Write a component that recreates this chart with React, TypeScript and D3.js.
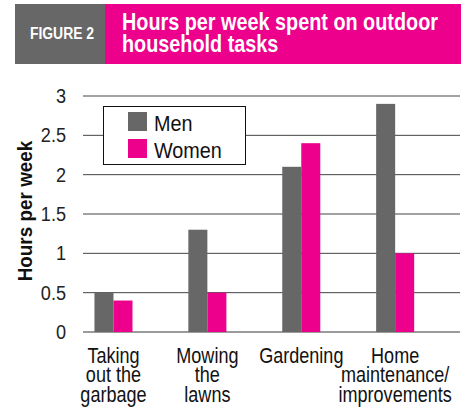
import React from "react";
import * as d3 from "d3";

const categories: string[][] = [
  ["Taking", "out the", "garbage"],
  ["Mowing", "the", "lawns"],
  ["Gardening"],
  ["Home", "maintenance/", "improvements"],
];
const categoryKeys = ["garbage", "lawns", "gardening", "home"];
const seriesNames = ["Men", "Women"];
const menValues = [0.5, 1.3, 2.1, 2.9];
const womenValues = [0.4, 0.5, 2.4, 1.0];
const yTicks = [0, 0.5, 1, 1.5, 2, 2.5, 3];
const yTickLabels = ["0", "0.5", "1", "1.5", "2", "2.5", "3"];
const titleLines = ["Hours per week spent on outdoor", "household tasks"];
const figureLabel = "FIGURE 2";
const yTitle = "Hours per week";

const W = 464;
const H = 414;
const GRAY = "#676767";
const PINK = "#EC008C";
const FONT = "'Liberation Sans', Arial, Helvetica, sans-serif";

type TProps = {
  x: number;
  y: number;
  sx?: number;
  rotate?: number;
  size: number;
  bold?: boolean;
  anchor?: "start" | "middle" | "end";
  fill?: string;
  children: React.ReactNode;
};

function T({ x, y, sx = 1, rotate = 0, size, bold, anchor = "start", fill = "#111", children }: TProps) {
  return (
    <text
      transform={`translate(${x},${y}) rotate(${rotate}) scale(${sx},1)`}
      fontSize={size}
      fontWeight={bold ? "bold" : "normal"}
      textAnchor={anchor}
      fill={fill}
    >
      {children}
    </text>
  );
}

export default function App() {
  const left = 83;
  const right = 460;
  const top = 96;
  const bottom = 332;

  const y = d3.scaleLinear().domain([0, 3]).range([bottom, top]);
  const x = d3
    .scaleBand<string>()
    .domain(categoryKeys)
    .range([left, right])
    .paddingInner(0.595)
    .paddingOuter(0.305)
    .align(0.2);
  const xs = d3.scaleBand<string>().domain(seriesNames).range([0, x.bandwidth()]);
  const colors = d3.scaleOrdinal<string, string>().domain(seriesNames).range([GRAY, PINK]);
  const values = [menValues, womenValues];

  return (
    <svg
      width={W}
      height={H}
      style={{ position: "absolute", left: 0, top: 0, background: "#fff" }}
      fontFamily={FONT}
    >
      {/* header */}
      <rect x={15} y={4} width={90} height={60} fill={GRAY} />
      <rect x={105} y={4} width={356} height={60} fill={PINK} />
      <T x={62} y={38.5} sx={0.87} size={16} bold anchor="middle" fill="#fff">
        {figureLabel}
      </T>
      {titleLines.map((t, i) => (
        <T key={i} x={122} y={29.5 + i * 22.5} sx={0.826} size={24} bold fill="#fff">
          {t}
        </T>
      ))}

      {/* gridlines and y ticks */}
      {yTicks.map((t, i) => (
        <g key={i}>
          <line
            x1={left}
            x2={right}
            y1={y(t)}
            y2={y(t)}
            stroke={t === 0 ? "#7a7a7a" : "#444"}
            strokeWidth={t === 0 ? 1.6 : 1}
          />
          <T x={66} y={y(t) + 7} sx={0.93} size={19.5} anchor="end" fill="#222">
            {yTickLabels[i]}
          </T>
        </g>
      ))}

      {/* y title */}
      <T x={32} y={(top + bottom) / 2 - 3} rotate={-90} sx={0.9} size={21} bold anchor="middle">
        {yTitle}
      </T>

      {/* bars */}
      {categoryKeys.map((k, ci) => (
        <g key={k} transform={`translate(${x(k)},0)`}>
          {seriesNames.map((s, si) => (
            <rect
              key={s}
              x={xs(s)}
              y={y(values[si][ci])}
              width={xs.bandwidth()}
              height={bottom - y(values[si][ci])}
              fill={colors(s)}
            />
          ))}
        </g>
      ))}

      {/* x labels */}
      {categoryKeys.map((k, ci) => (
        <g key={k}>
          {categories[ci].map((l, li) => (
            <T
              key={li}
              x={(x(k) as number) + x.bandwidth() / 2}
              y={362.5 + li * 19.5}
              sx={0.84}
              size={21.5}
              anchor="middle"
            >
              {l}
            </T>
          ))}
        </g>
      ))}

      {/* legend */}
      <rect x={103.5} y={106.5} width={142} height={58} fill="#fff" stroke="#111" strokeWidth={1} />
      {seriesNames.map((s, i) => (
        <g key={s}>
          <rect x={128} y={112 + i * 27} width={19} height={19} fill={colors(s)} />
          <T x={154} y={130.5 + i * 27} sx={0.88} size={22.5}>
            {s}
          </T>
        </g>
      ))}
    </svg>
  );
}
